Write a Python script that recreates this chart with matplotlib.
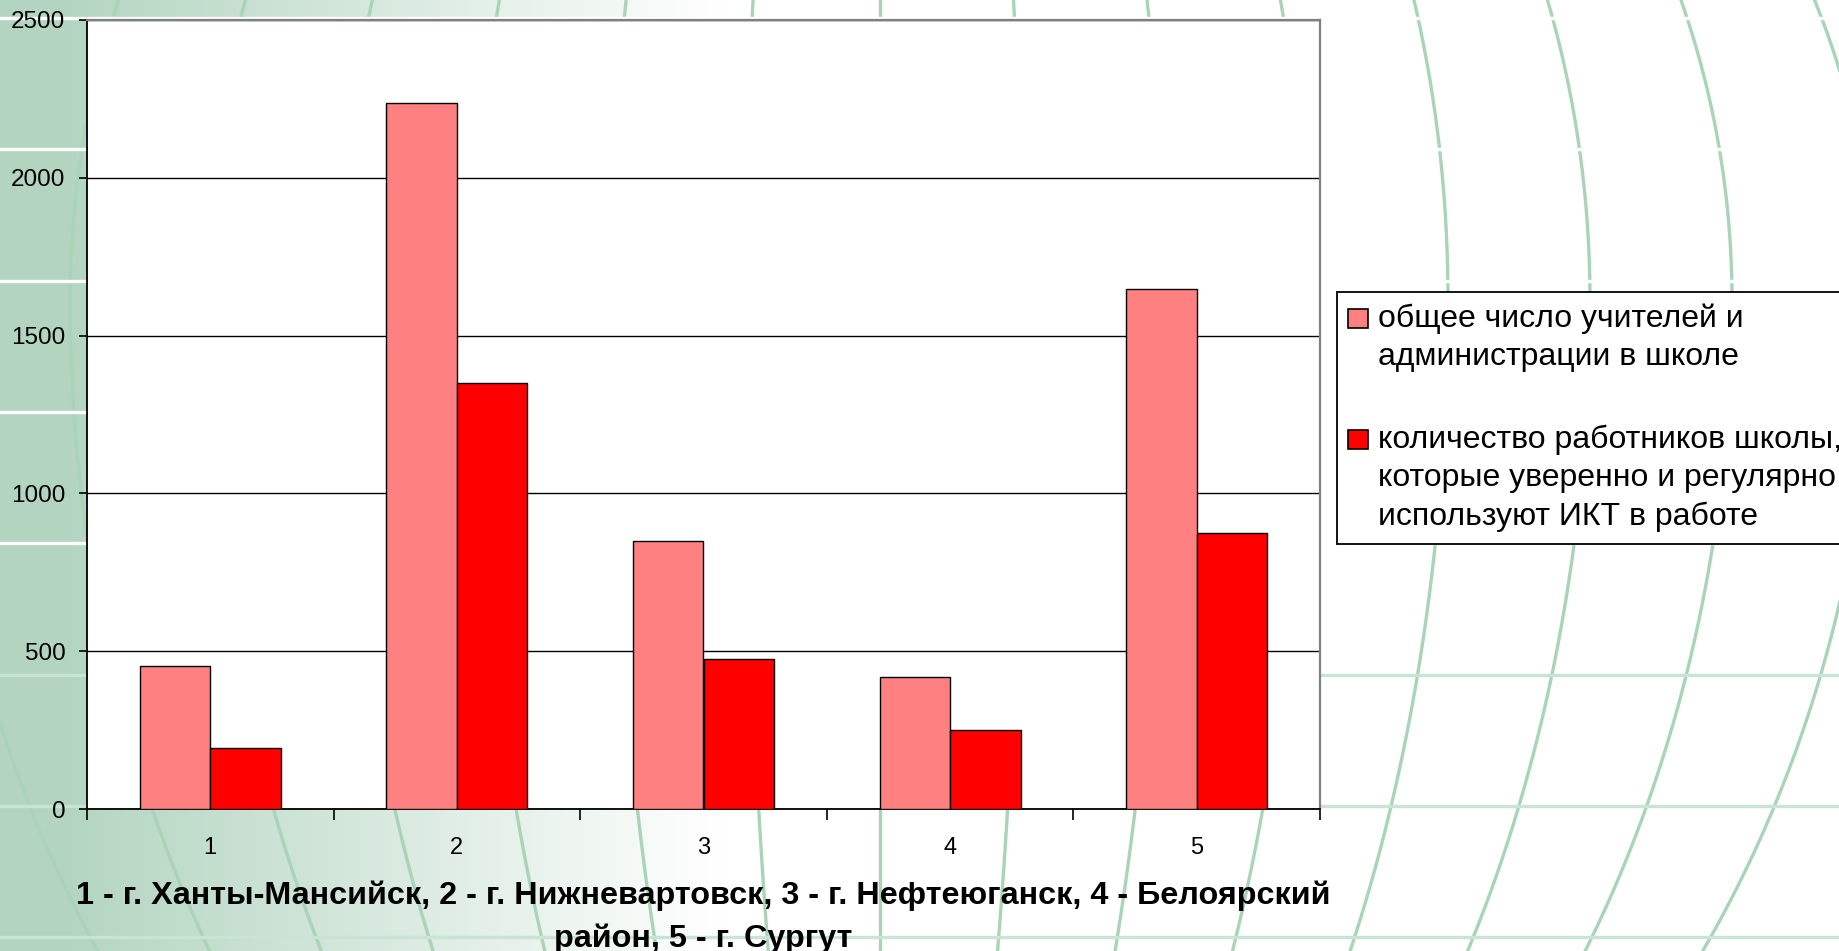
import numpy as np
import matplotlib
matplotlib.use("Agg")
import matplotlib.pyplot as plt
from matplotlib.patches import Rectangle
from matplotlib.legend_handler import HandlerPatch

# --- data ---
categories = ["1", "2", "3", "4", "5"]
total_staff = [454, 2236, 848, 417, 1648]
ict_staff = [193, 1350, 476, 249, 874]
series_names = [
    "общее число учителей и\nадминистрации в школе",
    "количество работников школы,\nкоторые уверенно и регулярно\nиспользуют ИКТ в работе",
]
yticks = [0, 500, 1000, 1500, 2000, 2500]
xlabel = ("1 - г. Ханты-Мансийск, 2 - г. Нижневартовск, 3 - г. Нефтеюганск, 4 - Белоярский\n"
          "район, 5 - г. Сургут")

W, H = 1840, 951
GREEN = np.array([0xb3, 0xd5, 0xc0]) / 255.0
FONT = ["Liberation Sans", "DejaVu Sans"]

fig = plt.figure(figsize=(W / 100, H / 100), dpi=100)
fig.patch.set_facecolor("white")

# --- decorative slide background (green fade + globe grid) ---
bg = fig.add_axes([0, 0, 1, 1], zorder=0)
bg.set_xlim(0, W)
bg.set_ylim(H, 0)
bg.axis("off")
xx, yy = np.meshgrid(np.arange(0, W, 4), np.arange(0, H, 4))
t = np.clip((xx - 60) / 660.0, 0, 1)
img = GREEN[None, None, :] * (1 - t[..., None]) + t[..., None]
bg.imshow(img, extent=[0, W, H, 0], aspect="auto", interpolation="bilinear")

yv = np.linspace(-30, H + 30, 240)
bb = np.where(yv < 300, 880.0, 1160.0)
g = np.sqrt(np.clip(1 - ((yv - 300) / bb) ** 2, 0, 1))
for k in range(-7, 8):
    sp = 142 if k > 0 else 135
    bg.plot(880 + sp * k * g, yv, color="#aad4b8", lw=2.4, solid_capstyle="butt")
for y0 in np.arange(18, H + 10, 131.3):
    col = "white" if y0 < 600 else "#c8e4d2"
    bg.axhline(y0, color=col, lw=2.4)

# --- chart ---
ax = fig.add_axes([87 / W, 1 - 809 / H, (1320 - 87) / W, (809 - 20) / H], zorder=1)
ax.set_facecolor("white")

x = np.arange(1, len(categories) + 1)
w = 1 / 3.5
b1 = ax.bar(x - w / 2, total_staff, w, color="#ff8080", edgecolor="black", lw=1.0, zorder=3)
b2 = ax.bar(x + w / 2, ict_staff, w, color="#ff0000", edgecolor="black", lw=1.0, zorder=3)

ax.set_xlim(0.5, len(categories) + 0.5)
ax.set_ylim(0, 2500)
ax.set_yticks(yticks)
ax.set_yticklabels([str(v) for v in yticks])
ax.yaxis.grid(True, color="black", lw=1.0, zorder=1)
ax.set_axisbelow(True)

ax.set_xticks(x)
ax.set_xticklabels(categories)
ax.set_xticks(np.arange(0.5, len(categories) + 1, 1), minor=True)
ax.tick_params(axis="x", which="major", length=0, pad=20, labelsize=17)
ax.tick_params(axis="x", which="minor", length=8, width=1.2, direction="out", color="black")
ax.tick_params(axis="y", length=6, width=1.2, pad=9.5, labelsize=17.5)
for lab in ax.get_xticklabels() + ax.get_yticklabels():
    lab.set_fontfamily(FONT)

for side in ("left", "bottom"):
    ax.spines[side].set_color("black")
    ax.spines[side].set_linewidth(1.3)
for side in ("top", "right"):
    ax.spines[side].set_color("#808080")
    ax.spines[side].set_linewidth(1.6)

ax.set_xlabel(xlabel, fontsize=23.3, fontweight="bold", labelpad=15.5, linespacing=1.55,
              family=FONT)


# legend squares sit on the first line of each label, as in Excel
class TopSquare(HandlerPatch):
    def __init__(self, lift, **kw):
        super().__init__(**kw)
        self.lift = lift

    def create_artists(self, legend, orig_handle, xdescent, ydescent,
                       width, height, fontsize, trans):
        r = Rectangle((-xdescent, -ydescent + self.lift), width, height,
                      facecolor=orig_handle.get_facecolor(), edgecolor="black",
                      lw=1.2, transform=trans)
        return [r]


step = 28.0  # one text line, in points
handles = [b1.patches[0], b2.patches[0]]
hmap = {h: TopSquare(step * name.count("\n") / 2) for h, name in zip(handles, series_names)}
leg = fig.legend(handles, series_names, handler_map=hmap,
                 loc="upper left", bbox_to_anchor=(1337 / W, 1 - 292 / H),
                 bbox_transform=fig.transFigure,
                 prop={"family": FONT, "size": 23},
                 frameon=True, fancybox=False, shadow=False, framealpha=1,
                 edgecolor="black", handlelength=0.62, handleheight=0.56,
                 handletextpad=0.31, borderpad=0.36, labelspacing=1.64,
                 borderaxespad=0)
for txt in leg.get_texts():
    txt.set_linespacing(1.36)
leg.get_frame().set_linewidth(1.3)
leg.set_zorder(5)

fig.savefig("out.png", dpi=100, facecolor=fig.get_facecolor())
